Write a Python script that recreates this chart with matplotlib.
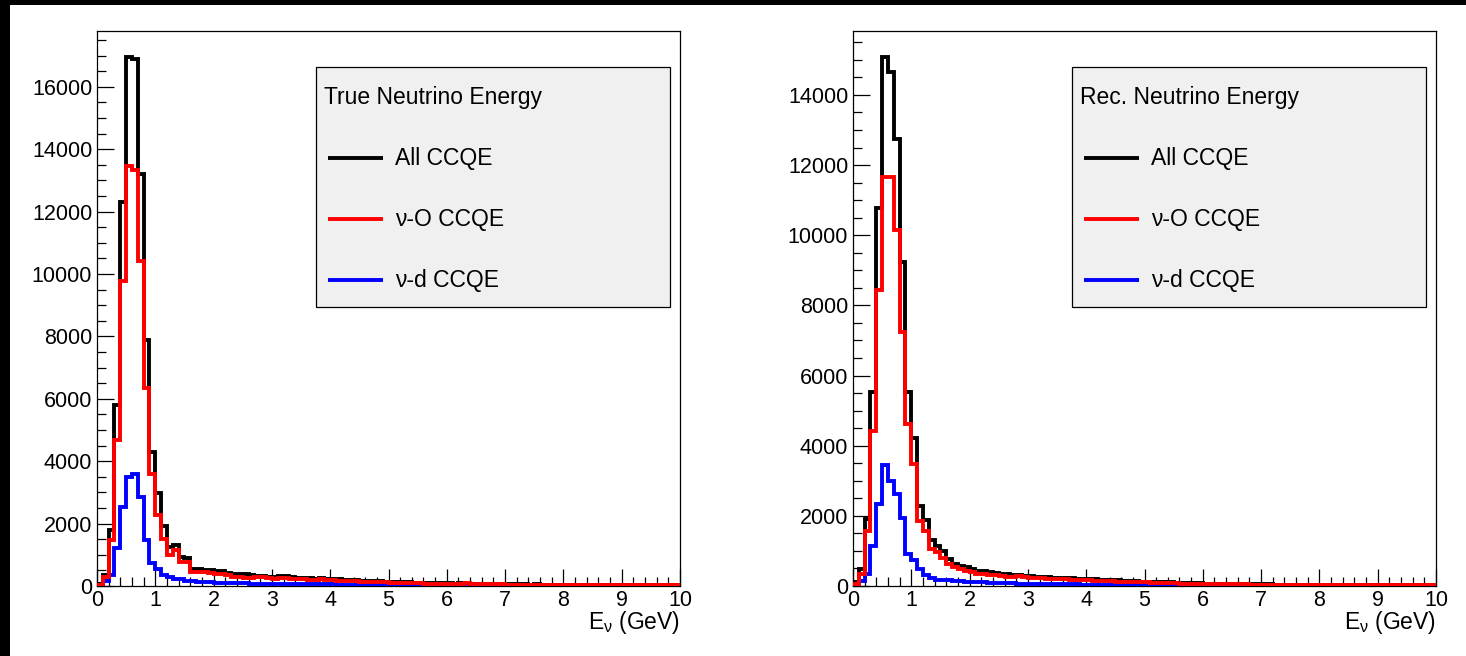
import numpy as np
import matplotlib
matplotlib.use("Agg")
import matplotlib.pyplot as plt
from matplotlib.patches import Rectangle
from matplotlib.ticker import MultipleLocator

plt.rcParams['font.family'] = ['Liberation Sans', 'DejaVu Sans']

#---------------------------------DATA (counts per 0.1 GeV bin, 0-10 GeV)
edges = np.linspace(0, 10, 101)

true_all = [
    60, 350, 1790, 5790, 12300, 16940, 16880, 13200, 7870, 4300,
    2990, 1920, 1260, 1330, 920, 900, 540, 530, 520, 500,
    480, 470, 430, 400, 390, 370, 340, 320, 310, 300,
    290, 330, 320, 280, 270, 260, 250, 240, 250, 230,
    220, 210, 200, 200, 190, 170, 160, 160, 150, 140,
    130, 130, 120, 120, 110, 110, 100, 100, 90, 90,
    90, 80, 90, 80, 70, 70, 70, 60, 60, 60,
    50, 50, 50, 50, 40, 50, 40, 40, 40, 40,
    40, 30, 40, 30, 30, 30, 30, 30, 30, 30,
    30, 20, 30, 20, 20, 20, 20, 20, 20, 20]
true_oxygen = [
    30, 300, 1470, 4670, 9790, 13470, 13330, 10400, 6360, 3600,
    2270, 1520, 990, 1150, 780, 770, 460, 450, 440, 420,
    400, 390, 360, 300, 280, 270, 260, 280, 300, 250,
    240, 270, 260, 230, 220, 210, 200, 200, 210, 190,
    190, 170, 170, 160, 160, 140, 130, 130, 120, 120,
    110, 110, 100, 100, 90, 90, 80, 80, 70, 70,
    70, 70, 80, 90, 60, 60, 50, 50, 50, 50,
    40, 40, 40, 40, 40, 40, 40, 30, 30, 30,
    30, 30, 30, 30, 30, 20, 30, 20, 20, 20,
    20, 20, 20, 20, 20, 20, 20, 20, 20, 20]
true_deut = [
    10, 150, 350, 1210, 2540, 3500, 3580, 2860, 1490, 730,
    560, 350, 280, 240, 220, 170, 150, 140, 130, 120,
    110, 110, 100, 100, 90, 90, 80, 80, 80, 70,
    70, 70, 60, 60, 60, 60, 50, 50, 50, 50,
    50, 40, 40, 40, 40, 30, 30, 30, 30, 30,
    30, 30, 20, 20, 20, 20, 20, 20, 20, 20,
    15, 15, 15, 15, 15, 15, 10, 10, 10, 10,
    10, 10, 10, 10, 10, 10, 10, 10, 10, 10,
    10, 5, 5, 5, 5, 5, 5, 5, 5, 5,
    5, 5, 5, 5, 5, 5, 5, 5, 5, 5]

rec_all = [
    100, 480, 1900, 5540, 10790, 15070, 14650, 12740, 9250, 5540,
    4230, 2280, 1870, 1300, 1140, 1000, 760, 620, 570, 530,
    480, 430, 430, 400, 380, 350, 340, 320, 300, 290,
    280, 270, 260, 250, 240, 240, 230, 220, 210, 200,
    200, 190, 180, 170, 160, 160, 150, 140, 130, 120,
    120, 110, 110, 100, 100, 90, 90, 80, 80, 80,
    70, 70, 70, 60, 60, 60, 60, 50, 50, 50,
    50, 50, 40, 40, 40, 40, 40, 40, 40, 30,
    30, 30, 30, 30, 30, 30, 30, 30, 30, 30,
    30, 30, 30, 30, 30, 30, 30, 30, 30, 30]
rec_oxygen = [
    60, 330, 1570, 4420, 8430, 11650, 11650, 10150, 7230, 4610,
    3470, 1850, 1570, 1050, 980, 810, 620, 530, 480, 430,
    400, 330, 330, 320, 300, 280, 270, 260, 280, 270,
    240, 230, 220, 210, 200, 190, 190, 180, 170, 160,
    160, 150, 150, 140, 130, 120, 120, 110, 110, 100,
    100, 90, 90, 80, 80, 80, 70, 70, 70, 60,
    60, 70, 60, 60, 50, 50, 50, 50, 40, 40,
    40, 40, 40, 40, 30, 30, 30, 40, 30, 30,
    30, 30, 30, 30, 30, 30, 30, 20, 30, 30,
    30, 30, 30, 20, 20, 30, 30, 30, 30, 20]
rec_deut = [
    20, 140, 350, 1140, 2350, 3440, 3000, 2620, 1930, 900,
    730, 480, 310, 230, 170, 170, 160, 150, 130, 120,
    110, 100, 100, 90, 90, 90, 80, 80, 70, 70,
    70, 60, 60, 60, 60, 50, 50, 50, 50, 40,
    40, 40, 40, 40, 30, 30, 30, 30, 30, 30,
    30, 20, 20, 20, 20, 20, 20, 20, 20, 20,
    15, 15, 15, 15, 15, 15, 15, 10, 10, 10,
    10, 10, 10, 10, 10, 10, 10, 10, 10, 10,
    10, 10, 10, 10, 10, 10, 10, 10, 10, 10,
    10, 10, 10, 10, 10, 10, 10, 10, 10, 10]

panels = [
    ("True Neutrino Energy", true_all, true_oxygen, true_deut),
    ("Rec. Neutrino Energy", rec_all, rec_oxygen, rec_deut),
]
labels = ["All CCQE", "\u03bd-O CCQE", "\u03bd-d CCQE"]
colors = ["black", "#ff0000", "#0000ff"]
#---------------------------------END DATA

fig = plt.figure(figsize=(14.66, 6.56), dpi=100)
fig.patch.set_facecolor("white")
# black strips of the screenshot frame (top and left)
fig.patches.append(Rectangle((0, 1 - 5 / 656), 1, 5 / 656, transform=fig.transFigure,
                             facecolor="black", edgecolor="none", zorder=-1))
fig.patches.append(Rectangle((0, 0), 10 / 1466, 1, transform=fig.transFigure,
                             facecolor="black", edgecolor="none", zorder=-1))

lefts = [97 / 1466, 853 / 1466]
fs = 15.5      # tick labels
fs_leg = 16.5  # legend text
lw = 2.8

for (title, h_all, h_o, h_d), left in zip(panels, lefts):
    ax = fig.add_axes([left, 1 - 586 / 656, 583 / 1466, 555 / 656])
    ax.stairs(h_all, edges, color=colors[0], linewidth=lw, baseline=None, zorder=2)
    ax.stairs(h_d, edges, color=colors[2], linewidth=lw, baseline=None, zorder=3)
    ax.stairs(h_o, edges, color=colors[1], linewidth=lw, baseline=None, zorder=4)

    ax.set_xlim(0, 10)
    ax.set_ylim(0, max(h_all) * 1.05)
    ax.xaxis.set_major_locator(MultipleLocator(1))
    ax.xaxis.set_minor_locator(MultipleLocator(0.2))
    ax.yaxis.set_major_locator(MultipleLocator(2000))
    ax.yaxis.set_minor_locator(MultipleLocator(500))
    ax.tick_params(which="both", direction="in", top=False, right=False,
                   width=0.9, labelsize=fs)
    ax.tick_params(which="major", length=12.5)
    ax.tick_params(which="minor", length=6.5)
    ax.tick_params(axis="y", pad=3.5)
    ax.tick_params(axis="x", pad=3)
    for sp in ax.spines.values():
        sp.set_linewidth(0.9)

    ax.text(1.0, -0.066, r"E$_{\mathregular{\nu}}$ (GeV)", transform=ax.transAxes,
            ha="right", va="center", fontsize=fs_leg)

    # legend box (ROOT style)
    ax.add_patch(Rectangle((0.376, 0.503), 0.607, 0.432, transform=ax.transAxes,
                           facecolor="#f0f0f0", edgecolor="black", linewidth=0.9,
                           zorder=5, clip_on=False))
    ax.text(0.389, 0.881, title, transform=ax.transAxes, ha="left", va="center",
            fontsize=fs_leg, zorder=6)
    for i, (lab, col) in enumerate(zip(labels, colors)):
        yy = 0.771 - i * 0.11
        ax.plot([0.396, 0.491], [yy, yy], color=col, linewidth=lw,
                transform=ax.transAxes, zorder=6, solid_capstyle="butt")
        ax.text(0.511, yy, lab, transform=ax.transAxes, ha="left", va="center",
                fontsize=fs_leg, zorder=6)

fig.savefig("out.png", dpi=100)
